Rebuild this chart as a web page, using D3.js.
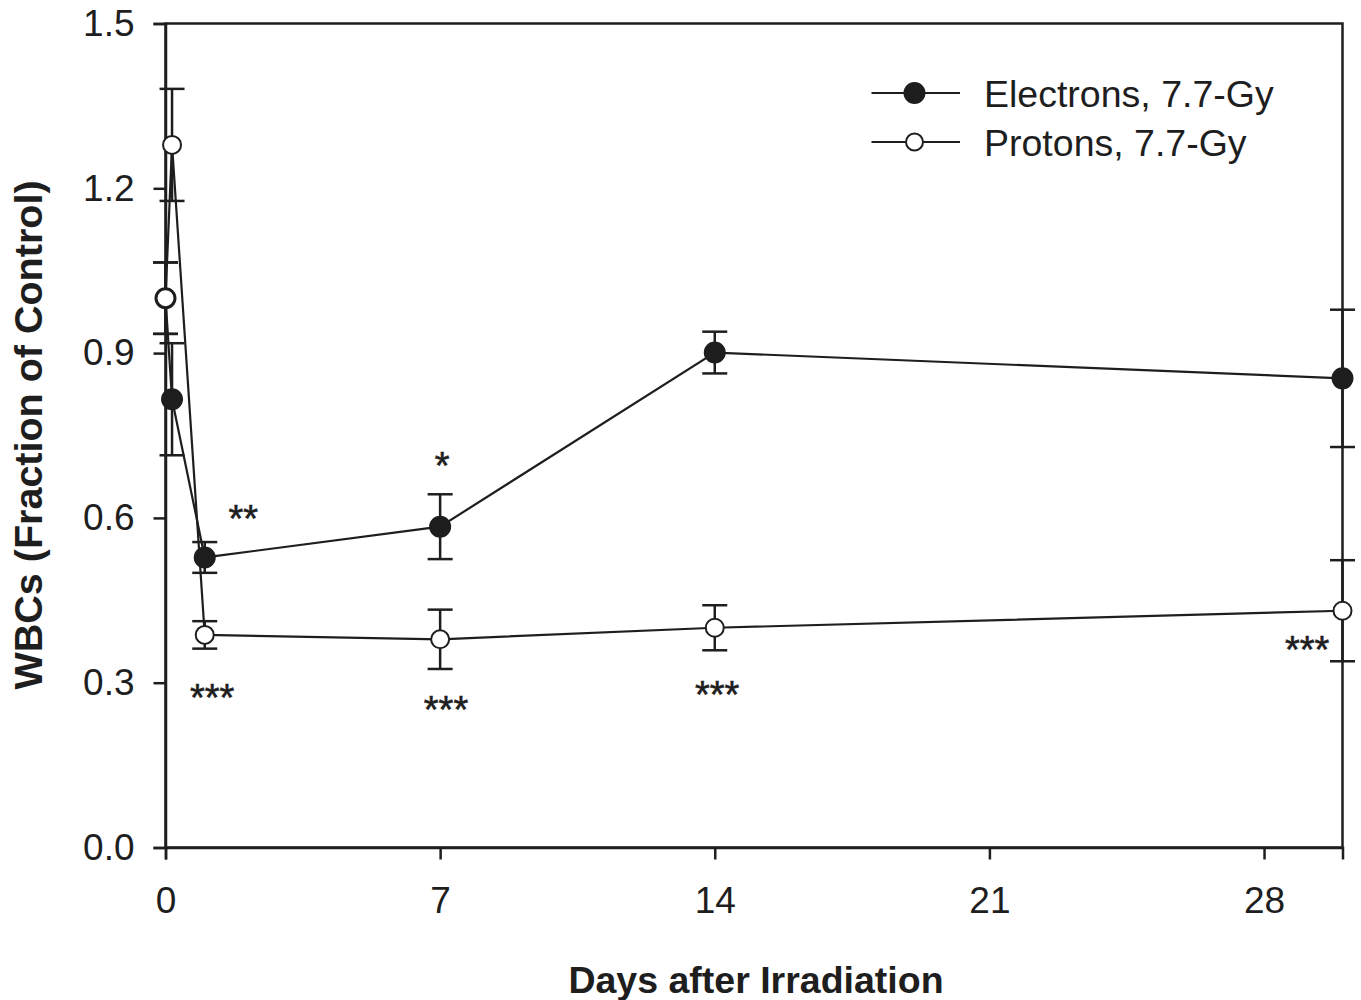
<!DOCTYPE html>
<html>
<head>
<meta charset="utf-8">
<script src="https://cdn.jsdelivr.net/npm/d3@7"></script>
<style>
    body { margin: 0; background: #ffffff; }
    svg { display: block; }
</style>
</head>
<body>
<script>
// days after irradiation (first two points: control and 4 hours)
var days = [0, 4 / 24, 1, 7, 14, 30];

var electronMean = [1.0, 0.816, 0.528, 0.584, 0.901, 0.854];
var electronErr = [0.065, 0.102, 0.028, 0.059, 0.038, 0.125];

var protonMean = [1.0, 1.279, 0.387, 0.379, 0.400, 0.431];
var protonErr = [0.065, 0.102, 0.025, 0.054, 0.041, 0.092];

var xTicks = [0, 7, 14, 21, 28];
var yTicks = [0.0, 0.3, 0.6, 0.9, 1.2, 1.5];

var seriesNames = ["Electrons, 7.7-Gy", "Protons, 7.7-Gy"];

// significance marks
var starLabels = ["**", "***", "*", "***", "***", "***"];
var starDays = [1.98, 1.19, 7.05, 7.15, 14.06, 29.1];
var starValues = [0.614, 0.289, 0.711, 0.267, 0.294, 0.376];

window.onload = (function () {
    var width = 1361;
    var height = 1000;
    var ink = "#1e1e1e";
    var font = "'Liberation Sans', Arial, Helvetica, sans-serif";

    var left = 165.5, right = 1342.5, top = 23.5, bottom = 847.5;

    var svg = d3.select("body").append("svg")
        .attr("width", width)
        .attr("height", height);

    var xScale = d3.scaleLinear()
        .domain([0, 30])
        .range([left, right]);

    var yScale = d3.scaleLinear()
        .domain([0, 1.5])
        .range([bottom, top]);

    // frame
    svg.append("rect")
        .attr("x", left)
        .attr("y", top)
        .attr("width", right - left)
        .attr("height", bottom - top)
        .attr("fill", "none")
        .attr("stroke", ink)
        .attr("stroke-width", 2.5);

    var xAxis = d3.axisBottom(xScale)
        .tickValues(xTicks)
        .tickSize(12)
        .tickPadding(27)
        .tickFormat(d3.format("d"));

    var yAxis = d3.axisLeft(yScale)
        .tickValues(yTicks)
        .tickSize(12)
        .tickPadding(19)
        .tickFormat(d3.format(".1f"));

    var gx = svg.append("g")
        .attr("transform", "translate(0," + bottom + ")")
        .call(xAxis);

    var gy = svg.append("g")
        .attr("transform", "translate(" + left + ",0)")
        .call(yAxis);

    [gx, gy].forEach(function (g) {
        g.select(".domain").attr("stroke", ink).attr("stroke-width", 2.5);
        g.selectAll(".tick line").attr("stroke", ink).attr("stroke-width", 2.5);
        g.selectAll(".tick text")
            .attr("fill", ink)
            .attr("font-family", font)
            .attr("font-size", "37px");
    });
    gx.selectAll(".tick text").attr("dy", "0.71em");

    // axis titles
    svg.append("text")
        .attr("x", 756)
        .attr("y", 993)
        .attr("text-anchor", "middle")
        .attr("font-family", font)
        .attr("font-weight", "bold")
        .attr("font-size", "37.5px")
        .attr("fill", ink)
        .text("Days after Irradiation");

    svg.append("text")
        .attr("transform", "translate(42," + 435 + ") rotate(-90)")
        .attr("text-anchor", "middle")
        .attr("font-family", font)
        .attr("font-weight", "bold")
        .attr("font-size", "39.5px")
        .attr("fill", ink)
        .text("WBCs (Fraction of Control)");

    var line = d3.line()
        .x(function (d) { return xScale(d.day); })
        .y(function (d) { return yScale(d.mean); });

    function makeSeries(means, errs) {
        return days.map(function (d, i) {
            return { day: d, mean: means[i], err: errs[i] };
        });
    }

    function drawSeries(data, filled) {
        var g = svg.append("g");

        g.append("path")
            .datum(data)
            .attr("d", line)
            .attr("fill", "none")
            .attr("stroke", ink)
            .attr("stroke-width", 2.2);

        var bars = g.selectAll(".err")
            .data(data)
            .enter()
            .append("g")
            .attr("class", "err");

        bars.append("line")
            .attr("x1", function (d) { return xScale(d.day); })
            .attr("x2", function (d) { return xScale(d.day); })
            .attr("y1", function (d) { return yScale(d.mean - d.err); })
            .attr("y2", function (d) { return yScale(d.mean + d.err); })
            .attr("stroke", ink)
            .attr("stroke-width", 2.5);

        [-1, 1].forEach(function (s) {
            bars.append("line")
                .attr("x1", function (d) { return xScale(d.day) - 12.5; })
                .attr("x2", function (d) { return xScale(d.day) + 12.5; })
                .attr("y1", function (d) { return yScale(d.mean + s * d.err); })
                .attr("y2", function (d) { return yScale(d.mean + s * d.err); })
                .attr("stroke", ink)
                .attr("stroke-width", 2.5);
        });

        g.selectAll("circle")
            .data(data)
            .enter()
            .append("circle")
            .attr("cx", function (d) { return xScale(d.day); })
            .attr("cy", function (d) { return yScale(d.mean); })
            .attr("r", filled ? 10 : 9)
            .attr("fill", filled ? ink : "#ffffff")
            .attr("stroke", ink)
            .attr("stroke-width", 2);
    }

    drawSeries(makeSeries(electronMean, electronErr), true);
    drawSeries(makeSeries(protonMean, protonErr), false);

    // stars
    svg.selectAll(".star")
        .data(starLabels)
        .enter()
        .append("text")
        .attr("class", "star")
        .attr("x", function (d, i) { return xScale(starDays[i]); })
        .attr("y", function (d, i) { return yScale(starValues[i]) + 22; })
        .attr("text-anchor", "middle")
        .attr("font-family", font)
        .attr("font-size", "38px")
        .attr("fill", ink)
        .attr("stroke", ink)
        .attr("stroke-width", 0.6)
        .text(function (d) { return d; });

    // legend
    var legend = svg.append("g");
    var legendY = [93, 142];
    seriesNames.forEach(function (name, i) {
        legend.append("line")
            .attr("x1", 871.5)
            .attr("x2", 960)
            .attr("y1", legendY[i])
            .attr("y2", legendY[i])
            .attr("stroke", ink)
            .attr("stroke-width", 2.2);
        legend.append("circle")
            .attr("cx", 914.5)
            .attr("cy", legendY[i])
            .attr("r", i === 0 ? 10 : 8.5)
            .attr("fill", i === 0 ? ink : "#ffffff")
            .attr("stroke", ink)
            .attr("stroke-width", 2);
        legend.append("text")
            .attr("x", 984)
            .attr("y", legendY[i] + 14)
            .attr("font-family", font)
            .attr("font-size", "37.5px")
            .attr("fill", ink)
            .text(name);
    });
})();
</script>
</body>
</html>
